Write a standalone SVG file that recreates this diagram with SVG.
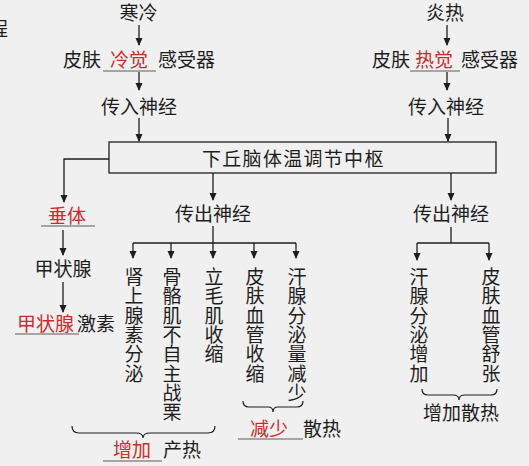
<svg xmlns="http://www.w3.org/2000/svg" width="529" height="466" viewBox="0 0 529 466">
<defs>
<style>
text{font-family:"Noto Sans CJK SC","Noto Sans CJK TC",sans-serif;font-size:19px;fill:#1e1e1e}
.r{fill:#cc2b2b}
.m{text-anchor:middle}
.ln{fill:none;stroke:#1e1e1e;stroke-width:1.3}
.ul{stroke:#5a5a5a;stroke-width:1.2}
.br{fill:none;stroke:#1e1e1e;stroke-width:1.2}
</style>
<marker id="ah" markerWidth="8" markerHeight="10" refX="7" refY="3.5" orient="auto" markerUnits="userSpaceOnUse">
<path d="M0,0 L8,3.5 L0,7 Z" fill="#1e1e1e"/>
</marker>
</defs>
<rect width="529" height="466" fill="#f0f0f0"/>
<text x="-11" y="36" font-size="20">程</text>

<g id="connectors">
<path class="ln" d="M139,25 V45" marker-end="url(#ah)"/>
<path class="ln" d="M139,72 V90" marker-end="url(#ah)"/>
<path class="ln" d="M139,118 V141" marker-end="url(#ah)"/>
<path class="ln" d="M447,25 V45" marker-end="url(#ah)"/>
<path class="ln" d="M447,72 V90" marker-end="url(#ah)"/>
<path class="ln" d="M448,118 V141" marker-end="url(#ah)"/>
<path class="ln" d="M109,159 H64 V202" marker-end="url(#ah)"/>
<path class="ln" d="M63,230 V255" marker-end="url(#ah)"/>
<path class="ln" d="M63,282 V312" marker-end="url(#ah)"/>
<path class="ln" d="M213,173 V200" marker-end="url(#ah)"/>
<path class="ln" d="M213,226 V243"/>
<path class="ln" d="M133,243 H296"/>
<path class="ln" d="M133,243 V258" marker-end="url(#ah)"/>
<path class="ln" d="M171,243 V258" marker-end="url(#ah)"/>
<path class="ln" d="M213,243 V258" marker-end="url(#ah)"/>
<path class="ln" d="M254,243 V258" marker-end="url(#ah)"/>
<path class="ln" d="M296,243 V258" marker-end="url(#ah)"/>
<path class="ln" d="M451,173 V200" marker-end="url(#ah)"/>
<path class="ln" d="M451,227 V243 M417,243 H489"/>
<path class="ln" d="M417,243 V260" marker-end="url(#ah)"/>
<path class="ln" d="M489,243 V260" marker-end="url(#ah)"/>
</g>

<g id="cold"><text class="m" x="138.5" y="20">寒冷</text></g>
<g id="cold-receptor">
<text x="63" y="67">皮肤</text><text class="r" x="110" y="67">冷觉</text><text x="158" y="67">感受器</text>
<line class="ul" x1="103" y1="71" x2="156" y2="71"/>
</g>
<g id="afferent-left"><text class="m" x="139" y="114">传入神经</text></g>

<g id="hot"><text class="m" x="445" y="20">炎热</text></g>
<g id="hot-receptor">
<text x="372" y="67">皮肤</text><text class="r" x="415" y="67">热觉</text><text x="461" y="67">感受器</text>
<line class="ul" x1="410" y1="71" x2="460" y2="71"/>
</g>
<g id="afferent-right"><text class="m" x="446" y="114">传入神经</text></g>

<g id="center">
<rect x="109" y="142" width="387" height="31" fill="none" stroke="#1e1e1e" stroke-width="1.3"/>
<text x="202" y="166" letter-spacing="1.3">下丘脑体温调节中枢</text>
</g>

<g id="pituitary">
<text class="r" x="48" y="223">垂体</text>
<line class="ul" x1="41" y1="226" x2="95" y2="226"/>
</g>
<g id="thyroid"><text class="m" x="63" y="276">甲状腺</text></g>
<g id="thyroid-hormone">
<text class="r" x="17" y="331">甲状腺</text><text x="77" y="331">激素</text>
<line class="ul" x1="15" y1="334" x2="79" y2="334"/>
</g>

<g id="efferent-mid"><text class="m" x="213" y="221">传出神经</text></g>
<g id="efferent-right"><text class="m" x="451" y="221">传出神经</text></g>

<g id="adrenal"><text class="m"><tspan x="134" y="284">肾</tspan><tspan x="134" dy="19.3">上</tspan><tspan x="134" dy="19.3">腺</tspan><tspan x="134" dy="19.3">素</tspan><tspan x="134" dy="19.3">分</tspan><tspan x="134" dy="19.3">泌</tspan></text></g>
<g id="shiver"><text class="m"><tspan x="172" y="284">骨</tspan><tspan x="172" dy="19.3">骼</tspan><tspan x="172" dy="19.3">肌</tspan><tspan x="172" dy="19.3">不</tspan><tspan x="172" dy="19.3">自</tspan><tspan x="172" dy="19.3">主</tspan><tspan x="172" dy="19.3">战</tspan><tspan x="172" dy="19.3">栗</tspan></text></g>
<g id="piloerection"><text class="m"><tspan x="214" y="284">立</tspan><tspan x="214" dy="19.3">毛</tspan><tspan x="214" dy="19.3">肌</tspan><tspan x="214" dy="19.3">收</tspan><tspan x="214" dy="19.3">缩</tspan></text></g>
<g id="vasoconstrict"><text class="m"><tspan x="255" y="284">皮</tspan><tspan x="255" dy="19.3">肤</tspan><tspan x="255" dy="19.3">血</tspan><tspan x="255" dy="19.3">管</tspan><tspan x="255" dy="19.3">收</tspan><tspan x="255" dy="19.3">缩</tspan></text></g>
<g id="sweat-less"><text class="m"><tspan x="297" y="284">汗</tspan><tspan x="297" dy="19.3">腺</tspan><tspan x="297" dy="19.3">分</tspan><tspan x="297" dy="19.3">泌</tspan><tspan x="297" dy="19.3">量</tspan><tspan x="297" dy="19.3">减</tspan><tspan x="297" dy="19.3">少</tspan></text></g>

<g id="sweat-more"><text class="m"><tspan x="419" y="284">汗</tspan><tspan x="419" dy="19.3">腺</tspan><tspan x="419" dy="19.3">分</tspan><tspan x="419" dy="19.3">泌</tspan><tspan x="419" dy="19.3">增</tspan><tspan x="419" dy="19.3">加</tspan></text></g>
<g id="vasodilate"><text class="m"><tspan x="491" y="284">皮</tspan><tspan x="491" dy="19.3">肤</tspan><tspan x="491" dy="19.3">血</tspan><tspan x="491" dy="19.3">管</tspan><tspan x="491" dy="19.3">舒</tspan><tspan x="491" dy="19.3">张</tspan></text></g>

<g id="heat-gain">
<path class="br" d="M72,426 Q72,433 79,433 L136,433 Q143,433 143,438 Q143,433 150,433 L208,433 Q215,433 215,426"/>
<text class="r" x="113" y="457">增加</text><text x="163" y="457">产热</text>
<line class="ul" x1="103" y1="461" x2="162" y2="461"/>
</g>
<g id="heat-loss-less">
<path class="br" d="M243,401 Q243,407 249,407 L268,407 Q273,407 273,412 Q273,407 278,407 L297,407 Q303,407 303,401"/>
<text class="r" x="250" y="436">减少</text><text x="303" y="436">散热</text>
<line class="ul" x1="238" y1="439" x2="303" y2="439"/>
</g>
<g id="heat-loss-more">
<path class="br" d="M422,389 Q422,395 428,395 L453,395 Q459,395 459,400 Q459,395 465,395 L491,395 Q497,395 497,389"/>
<text class="m" x="461" y="420">增加散热</text>
</g>
</svg>
